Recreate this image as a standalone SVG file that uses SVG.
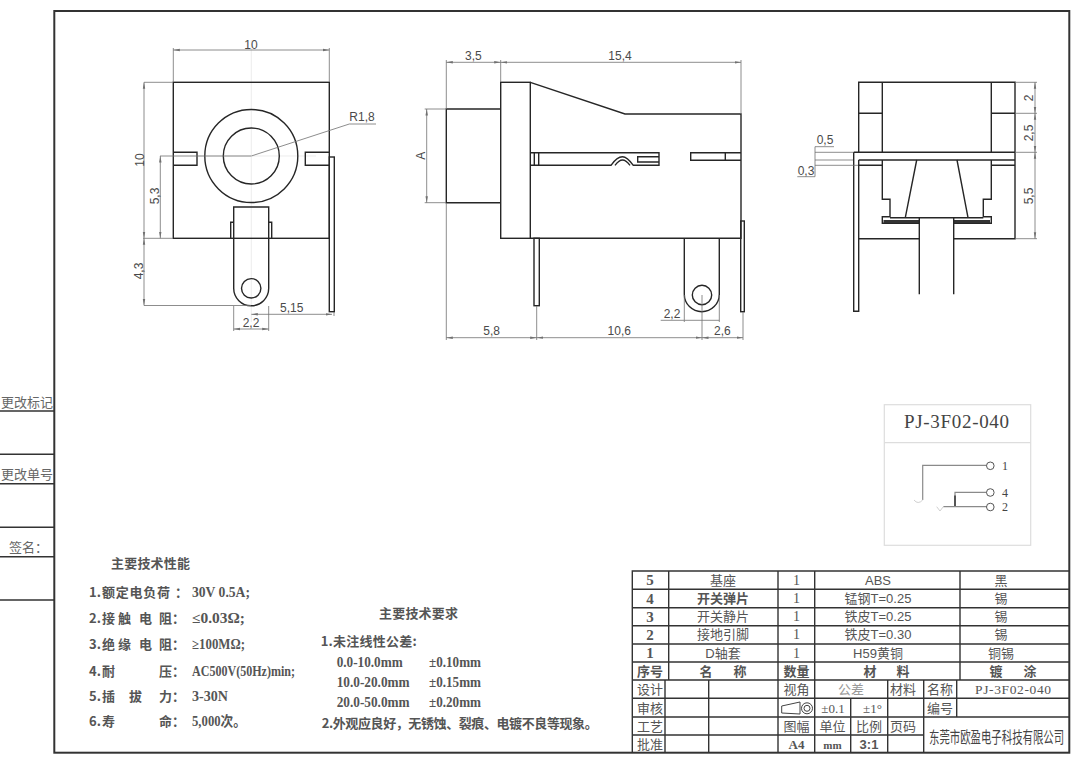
<svg xmlns="http://www.w3.org/2000/svg" width="1080" height="764" viewBox="0 0 1080 764">
<style>
.p{fill:none;stroke:#262626;stroke-width:1.4}
.d{fill:none;stroke:#707070;stroke-width:.8}
.a{marker-start:url(#ar);marker-end:url(#ar)}
.c{fill:none;stroke:#e4e4e4;stroke-width:.7}
.t{fill:none;stroke:#333;stroke-width:1.4}
.dt{font-family:"Liberation Sans",sans-serif;font-size:12px;fill:#4a4a4a;text-anchor:middle}
.cn{font-family:"Noto Sans CJK SC",sans-serif;font-size:13px;fill:#555}
.m{text-anchor:middle}
.b{font-weight:700}
.sf{font-family:"Liberation Serif","Noto Sans CJK SC",serif}
.v{font-size:14px}
.sn{font-family:"Liberation Sans","Noto Sans CJK SC",sans-serif}
.g{fill:none;stroke:#8a8a8a;stroke-width:1.2}
.l{fill:none;stroke:#d0d0d0;stroke-width:1}
.ci{fill:#fff;stroke:#555;stroke-width:1}
</style>
<defs>
<marker id="ar" markerUnits="userSpaceOnUse" markerWidth="7" markerHeight="4" refX="6.5" refY="2" orient="auto-start-reverse"><path d="M0 .8L6.5 2L0 3.2Z" fill="#707070"/></marker>
</defs>
<rect width="1080" height="764" fill="#fff"/>

<g id="frame">
<rect x="54.3" y="11" width="1015" height="741.7" fill="none" stroke="#333" stroke-width="2"/>
<path d="M0 411H54M0 454.3H54M0 483.7H54M0 527.3H54M0 556.7H54M0 600H54" class="t"/>
<text class="cn" x="1" y="406.5" textLength="52" style="fill:#666">更改标记</text>
<text class="cn" x="1" y="478.5" textLength="52" style="fill:#666">更改单号</text>
<text class="cn" x="9" y="552" style="fill:#666">签名：</text>
</g>

<g id="view-front">
<path class="c" d="M251.3 40V322M190 156H316"/>
<rect class="p" x="173.3" y="82.3" width="156" height="156"/>
<circle class="p" cx="251.3" cy="156" r="46.5"/>
<circle class="p" cx="251.3" cy="156" r="28"/>
<path class="p" d="M173.3 152.3H197V165.3H173.3M329.3 152.3H305.3V165.3H329.3"/>
<rect class="p" x="329.3" y="157" width="5" height="154.7" fill="#fff"/>
<path class="p" d="M233.7 270V207H268.7V288.3A17.5 17.5 0 0 1 233.7 288.3V270M233.7 222.3H230.7V238.3M268.7 222.3H271.7V238.3"/>
<circle class="p" cx="251.2" cy="288.3" r="9.7"/>
<path class="d" d="M173.3 48V82M329.3 48V82M144 82.3H173M143 238.3H173M144 305.5H251M160 156H251M233.7 306V331M268.7 306V331M334 312V316M251.3 156L349.3 124H376"/>
<path class="d a" d="M173.3 50H329.3"/>
<path class="d a" d="M144 82.3V238.3"/>
<path class="d a" d="M144 238.3V305.5"/>
<path class="d a" d="M160.3 156V238.3"/>
<path class="d a" d="M251.3 314.3H332"/>
<path class="d a" d="M233.7 329H268.7"/>
<text class="dt" x="251" y="49">10</text>
<text class="dt" transform="translate(144 160) rotate(-90)">10</text>
<text class="dt" transform="translate(159.3 196) rotate(-90)">5,3</text>
<text class="dt" transform="translate(143 271) rotate(-90)">4,3</text>
<text class="dt" x="362" y="121">R1,8</text>
<text class="dt" x="291.7" y="312">5,15</text>
<text class="dt" x="251" y="326.5">2,2</text>
</g>

<g id="view-side">
<path class="p" d="M500.7 109H446.3V202.7H500.7"/>
<rect class="p" x="500.7" y="82.3" width="29.6" height="156"/>
<path class="p" d="M530.3 82.3L625 114H741V238.3H530.3"/>
<path class="p" d="M530.3 152.7H659V165.3H633.3Q627 156.7 622.5 156.7Q617 156.7 611 165.3H530.3M534.3 152.7V165.3M538.7 152.7V165.3M615 165.3Q619 160 622.5 160Q626 160 630 165.3"/>
<path class="p" d="M659 156.7H637.7V162H659M741 152.7H690.7V160.3H741M725.3 152.7V160.3"/>
<rect class="p" x="534" y="238.3" width="5.3" height="67.4"/>
<path class="p" d="M684.3 238.3V294.2A17.5 17.5 0 0 0 719.3 294.2V238.3"/>
<circle class="p" cx="702" cy="295" r="9.7"/>
<rect class="p" x="740.7" y="221" width="3.6" height="90.7" fill="#fff"/>
<path class="d" d="M446.3 60V109M500.7 60V82M741 60V114M424.7 109H446M424.7 202.7H446M446.3 203V340M536.7 306V340M702 295V340M743 312V340M684.3 295V322M719.3 295V322M660.7 320.3H684"/>
<path class="d a" d="M446.3 62.3H500.7"/>
<path class="d a" d="M500.7 62.3H741"/>
<path class="d a" d="M426.7 109V202.7"/>
<path class="d a" d="M446.3 337.7H536.7"/>
<path class="d a" d="M536.7 337.7H702"/>
<path class="d a" d="M702 337.7H743"/>
<path class="d" d="M684.3 320.3H719.3"/>
<text class="dt" x="473.3" y="60">3,5</text>
<text class="dt" x="620" y="60">15,4</text>
<text class="dt" transform="translate(425 155.7) rotate(-90)">A</text>
<text class="dt" x="491.7" y="335">5,8</text>
<text class="dt" x="619.3" y="335">10,6</text>
<text class="dt" x="722.3" y="335">2,6</text>
<text class="dt" x="672" y="318">2,2</text>
</g>

<g id="view-rear">
<path class="p" d="M858.7 152.3V82.3H1015V238.7H953.7M919.3 238.7H858.7V160"/>
<path class="p" d="M882.3 82.3V152.3M991.3 82.3V152.3M858.7 113.3H882.3M991.3 113.3H1015"/>
<path class="p" d="M853.7 152.3H1015M858.7 160H1015M858.7 165.3H882.3M991.3 165.3H1015"/>
<path class="p" d="M853.7 152.3V311.3H858.7V238"/>
<path class="p" d="M882.3 160V199.3H890V216.7H882.3V223.3H919.3M991.3 160V199.3H983.3V216.7H991.3V223.3H953.7M890 217.7H983.3M916.7 160L905.3 217.7M957 160L968 217.7"/>
<path d="M883.5 221.5H919M954 221.5H990" fill="none" stroke="#333" stroke-width="3"/>
<path class="p" d="M919.3 217.7V294.3M953.7 217.7V294.3"/>
<path class="d" d="M1015 82.3H1037M1015 113.3H1037M1015 152.3H1037M1015 238.7H1037M815 152.3H853M815 160H853M815 165.3H858M834 146.7H815V176.7H797.3"/>
<path class="d a" d="M1035 82.3V113.3"/>
<path class="d a" d="M1035 113.3V152.3"/>
<path class="d a" d="M1035 152.3V238.7"/>
<text class="dt" transform="translate(1033.3 98) rotate(-90)">2</text>
<text class="dt" transform="translate(1032.5 133) rotate(-90)">2,5</text>
<text class="dt" transform="translate(1032.5 196) rotate(-90)">5,5</text>
<text class="dt" x="825" y="144">0,5</text>
<text class="dt" x="806" y="174.7">0,3</text>
</g>

<g id="schematic">
<rect x="884.3" y="404.7" width="146.4" height="140.6" fill="none" stroke="#ddd" stroke-width="1.2"/>
<path d="M884.3 442.7H1030.7" fill="none" stroke="#ddd" stroke-width="1.2"/>
<text class="sf" x="904" y="428" font-size="19" fill="#444" textLength="105">PJ-3F02-040</text>
<path class="g" d="M922.7 500V465.3H987M955 506.5V492.3H987M943.3 506.7H987"/>
<path d="M955 495.5V506" fill="none" stroke="#555" stroke-width="2"/>
<path class="l" d="M914 500Q918 505 922.7 500M936.7 506.7L940 511L943.3 506.7"/>
<circle class="ci" cx="990.3" cy="465.8" r="3.8"/>
<circle class="ci" cx="990.3" cy="492.5" r="3.8"/>
<circle class="ci" cx="990.3" cy="507" r="3.8"/>
<text class="sf" x="1005" y="469.7" font-size="12" fill="#444" text-anchor="middle">1</text>
<text class="sf" x="1005" y="496.5" font-size="12" fill="#444" text-anchor="middle">4</text>
<text class="sf" x="1005" y="511" font-size="12" fill="#444" text-anchor="middle">2</text>
</g>

<g id="spec-performance" class="cn b" style="font-weight:700">
<text x="111" y="568" textLength="79">主要技术性能</text>
<text x="89" y="596.5">1.</text><text x="102" y="596.5" textLength="68">额定电负荷</text><text x="175" y="596.5">：</text><text class="sf v" x="192" y="596.5" textLength="58" lengthAdjust="spacingAndGlyphs">30V 0.5A;</text>
<text x="89" y="623">2.</text><text x="102" y="623">接</text><text x="118" y="623">触</text><text x="139" y="623">电</text><text x="159" y="623">阻：</text><text class="sf v" x="192" y="623" textLength="53" lengthAdjust="spacingAndGlyphs">≤0.03Ω;</text>
<text x="89" y="649">3.</text><text x="102" y="649">绝</text><text x="118" y="649">缘</text><text x="139" y="649">电</text><text x="159" y="649">阻：</text><text class="sf v" x="192" y="649" textLength="53" lengthAdjust="spacingAndGlyphs">≥100MΩ;</text>
<text x="89" y="676">4.</text><text x="102" y="676">耐</text><text x="159" y="676">压：</text><text class="sf v" x="192" y="676" textLength="103" lengthAdjust="spacingAndGlyphs">AC500V(50Hz)min;</text>
<text x="89" y="701">5.</text><text x="102" y="701">插</text><text x="129" y="701">拔</text><text x="159" y="701">力：</text><text class="sf v" x="192" y="701" textLength="36" lengthAdjust="spacingAndGlyphs">3-30N</text>
<text x="89" y="726">6.</text><text x="102" y="726">寿</text><text x="159" y="726">命：</text><text class="sf v" x="192" y="726" textLength="54" lengthAdjust="spacingAndGlyphs">5,000次。</text>
</g>

<g id="spec-requirements" class="cn" style="font-weight:700">
<text x="379" y="618" textLength="79">主要技术要求</text>
<text x="320.7" y="646" textLength="96">1.未注线性公差:</text>
<text class="sf v" x="336.7" y="667" textLength="66" lengthAdjust="spacingAndGlyphs">0.0-10.0mm</text><text class="sf v" x="429" y="667" textLength="52" lengthAdjust="spacingAndGlyphs">±0.10mm</text>
<text class="sf v" x="336.7" y="687" textLength="73" lengthAdjust="spacingAndGlyphs">10.0-20.0mm</text><text class="sf v" x="429" y="687" textLength="52" lengthAdjust="spacingAndGlyphs">±0.15mm</text>
<text class="sf v" x="336.7" y="706.5" textLength="73" lengthAdjust="spacingAndGlyphs">20.0-50.0mm</text><text class="sf v" x="429" y="706.5" textLength="52" lengthAdjust="spacingAndGlyphs">±0.20mm</text>
<text x="321.7" y="728" textLength="276">2.外观应良好，无锈蚀、裂痕、电镀不良等现象。</text>
</g>

<g id="title-block">
<path class="t" d="M632.3 752.7V571H1069.3M632.3 589.3H1069.3M632.3 607.7H1069.3M632.3 625.7H1069.3M632.3 644H1069.3M632.3 662H1069.3M632.3 680H1069.3M632.3 698.3H1069.3M632.3 717H1069.3M632.3 735H923.7"/>
<path class="t" d="M668.7 571V680M778 571V752.7M814.7 571V752.7M960 571V680M665 680V752.7M708.7 680V752.7M887.7 680V752.7M923.7 680V752.7M956.7 680V717M850.7 698.3V717M850.7 717V752.7"/>
<path fill="none" stroke="#444" stroke-width="1" d="M781.7 706L800 702V714L781.7 713Z"/>
<circle cx="807" cy="708.3" r="5.5" fill="none" stroke="#444"/><circle cx="807" cy="708.3" r="3" fill="none" stroke="#444"/>
<g class="cn m">
<text class="sf b" x="650" y="585" style="font-size:15px">5</text>
<text class="sf b" x="650" y="603.5" style="font-size:15px">4</text>
<text class="sf b" x="650" y="621.5" style="font-size:15px">3</text>
<text class="sf b" x="650" y="639.5" style="font-size:15px">2</text>
<text class="sf b" x="650" y="657.5" style="font-size:15px">1</text>
<text class="b" x="650" y="676">序号</text>
<text x="723" y="585">基座</text>
<text class="b" x="723" y="603">开关弹片</text>
<text x="723" y="621">开关静片</text>
<text x="723" y="639">接地引脚</text>
<text class="sn" x="723" y="657.5">D轴套</text>
<text class="b" x="706" y="676">名</text><text class="b" x="740" y="676">称</text>
<text class="sf" x="796.5" y="585" style="font-size:14px">1</text>
<text class="sf" x="796.5" y="603" style="font-size:14px">1</text>
<text class="sf" x="796.5" y="621" style="font-size:14px">1</text>
<text class="sf" x="796.5" y="639" style="font-size:14px">1</text>
<text class="sf" x="796.5" y="657.5" style="font-size:14px">1</text>
<text class="b" x="796.5" y="676">数量</text>
<text class="sn" x="878" y="585">ABS</text>
<text class="sn" x="878" y="603">锰钢T=0.25</text>
<text class="sn" x="878" y="621">铁皮T=0.25</text>
<text class="sn" x="878" y="639">铁皮T=0.30</text>
<text class="sn" x="878" y="657.5">H59黄铜</text>
<text class="b" x="870" y="676">材</text><text class="b" x="903" y="676">料</text>
<text x="1001" y="585">黑</text><text x="1001" y="603">锡</text><text x="1001" y="621">锡</text><text x="1001" y="639">锡</text><text x="1001" y="657.5">铜锡</text>
<text class="b" x="996" y="676">镀</text><text class="b" x="1030" y="676">涂</text>
<text x="650" y="694">设计</text><text x="650" y="712.5">审核</text><text x="650" y="730.5">工艺</text><text x="650" y="748.5">批准</text>
<text x="796.5" y="694">视角</text><text x="796.5" y="730.5">图幅</text>
<text class="sf b" x="796.5" y="748.5">A4</text>
<text x="851" y="694" style="fill:#999">公差</text>
<text x="903" y="694">材料</text><text x="940" y="694">名称</text><text x="940" y="712.5">编号</text>
<text class="sf" x="1013" y="694" textLength="76" style="font-size:13.5px">PJ-3F02-040</text>
<text class="sf" x="833" y="712.5">±0.1</text><text class="sf" x="872.5" y="712.5">±1°</text>
<text x="832.5" y="730.5">单位</text><text x="869" y="730.5">比例</text><text x="903" y="730.5">页码</text>
<text class="sf b" x="832.5" y="748.5" style="font-size:11px">mm</text>
<text class="sn b" x="869" y="748.5">3:1</text>
</g>
<text class="cn" transform="translate(929 742.5) scale(.65 1)" style="font-size:16px;fill:#444">东莞市欧盈电子科技有限公司</text>
</g>
</svg>
